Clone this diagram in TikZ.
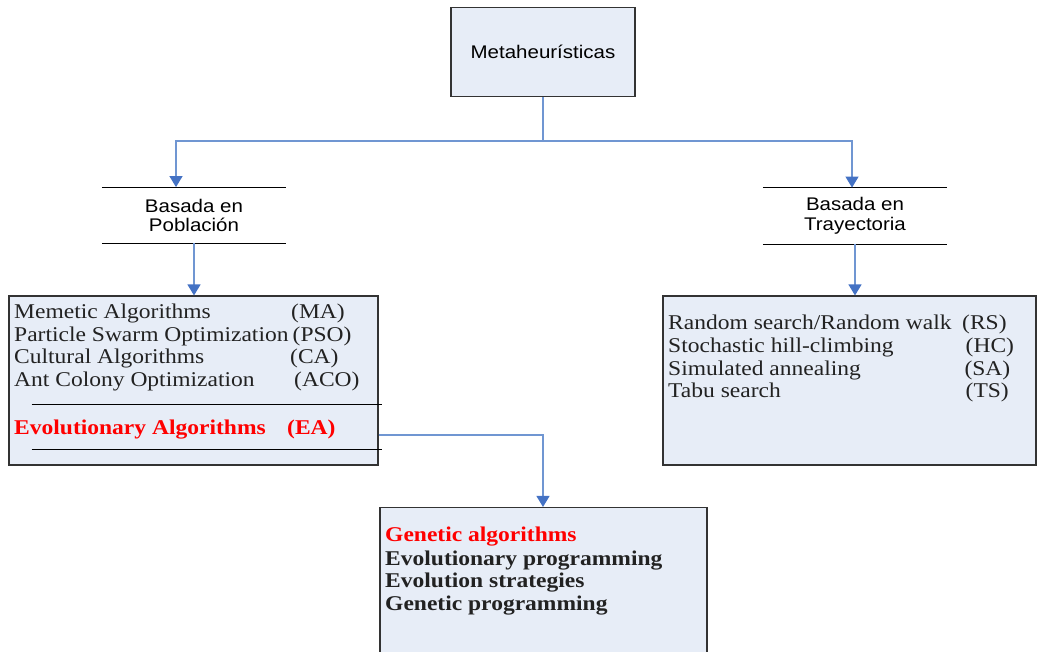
\documentclass[tikz,border=0pt]{standalone}
\usepackage{fontspec}
\usetikzlibrary{arrows.meta}
\newfontfamily\labelfont[FakeStretch=1.12]{Liberation Sans}
\newfontfamily\listfont[FakeStretch=1.12]{Liberation Serif}
\definecolor{boxfill}{HTML}{E7EDF7}
\definecolor{boxline}{HTML}{333333}
\definecolor{connline}{HTML}{7096D2}
\definecolor{connhead}{HTML}{4472C4}
\definecolor{hired}{HTML}{FF0000}
\definecolor{ink}{HTML}{222222}

\begin{document}
\begin{tikzpicture}[x=1pt,y=-1pt,
  box/.style={draw=boxline, fill=boxfill, line width=1.1pt, inner sep=0pt, rectangle},
  rule/.style={draw=black, line width=0.9pt},
  plain/.style={draw=connline, line width=1.2pt},
  conn/.style={plain, -{Triangle[width=13pt,length=11pt,fill=connhead,color=connhead]}},
  heading/.style={font=\labelfont\fontsize{18.3}{19.5}\selectfont, text=black, align=center, inner sep=0pt},
  item/.style={font=\listfont\fontsize{21}{22}\selectfont, text=ink, anchor=base west, inner sep=0pt},
  bolditem/.style={item, font=\listfont\bfseries\fontsize{21}{22}\selectfont},
  hot/.style={bolditem, text=hired},
]
\useasboundingbox (0,0) rectangle (1038,652);

% root
\node[box, heading, minimum width=184pt, minimum height=89pt] (top) at (543,52) {Metaheurísticas};

% two branch labels, ruled above and below
\node[heading, minimum width=184pt, minimum height=56pt] (pop) at (194,215.3) {Basada en\\Población};
\node[heading, minimum width=184pt, minimum height=56pt] (tray) at (855,215.8) {Basada en\\Trayectoria};
\foreach \n in {pop,tray}{
  \draw[rule] (\n.north west) -- (\n.north east);
  \draw[rule] (\n.south west) -- (\n.south east);
}

% list boxes
\node[box, minimum width=369pt, minimum height=169pt] (popbox) at (193.5,380.5) {};
\node[box, minimum width=373pt, minimum height=169pt] (traybox) at (849.5,380.5) {};
\node[box, minimum width=327pt, minimum height=160pt] (gabox) at (543.5,587.5) {};

% connectors
\coordinate (split) at (543,141);
\draw[plain] (top.south) -- (split);
\draw[conn] (split) -| ([xshift=-18pt]pop.north);
\draw[conn] (split) -| ([xshift=-3pt]tray.north);
\draw[conn] (pop.south) -- (pop.south |- popbox.north);
\draw[conn] (tray.south) -- (tray.south |- traybox.north);
\coordinate (eaout) at (popbox.east |- 0,435);
\draw[conn] (eaout) -| ([xshift=-0.5pt]gabox.north);

% population-based methods
\node[item] (ma)  at (14,318.5) {Memetic Algorithms};
\node[item] (maA) at (291,318.5) {(MA)};
\node[item] (pso)  at (14,341) {Particle Swarm Optimization};
\node[item] (psoA) at (292.5,341) {(PSO)};
\node[item] (ca)  at (14,363.5) {Cultural Algorithms};
\node[item] (caA) at (290,363.5) {(CA)};
\node[item] (aco)  at (14,386) {Ant Colony Optimization};
\node[item] (acoA) at (294,386) {(ACO)};
\draw[rule] (31.7,404) -- (381.7,404);
\node[hot] (ea)  at (14,434) {Evolutionary Algorithms};
\node[hot] (eaA) at (287,434) {(EA)};
\draw[rule] (31.7,449.3) -- (381.7,449.3);

% trajectory-based methods
\node[item] (rs)  at (668,329.3) {Random search/Random walk};
\node[item] (rsA) at (962,329.3) {(RS)};
\node[item] (hc)  at (668,352.5) {Stochastic hill-climbing};
\node[item] (hcA) at (965.5,352.5) {(HC)};
\node[item] (sa)  at (668,375) {Simulated annealing};
\node[item] (saA) at (964.3,375) {(SA)};
\node[item] (ts)  at (668,397.3) {Tabu search};
\node[item] (tsA) at (965.5,397.3) {(TS)};

% evolutionary algorithm families
\node[hot] (ga) at (385,541.7) {Genetic algorithms};
\node[bolditem] (ep) at (385,565) {Evolutionary programming};
\node[bolditem] (es) at (385,587.3) {Evolution strategies};
\node[bolditem] (gp) at (385,610) {Genetic programming};
\end{tikzpicture}
\end{document}
